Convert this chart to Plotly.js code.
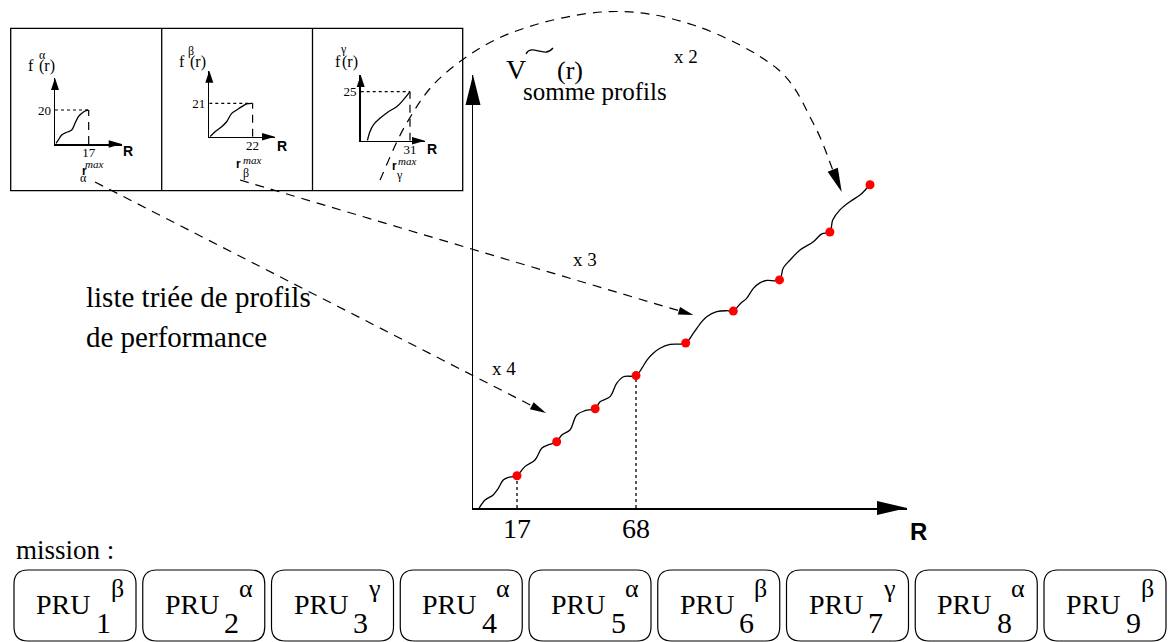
<!DOCTYPE html>
<html>
<head>
<meta charset="utf-8">
<script src="https://cdn.plot.ly/plotly-3.0.1.min.js"></script>
<style>html,body{margin:0;padding:0;background:#fff;}#chart{width:1168px;height:642px;}</style>
</head>
<body>
<div id="chart"></div>
<script>
// ================= DATA =================
// summed performance profile V~(r)
const sumR = [0.8, 3.3, 6.8, 9.0, 11.1, 13.3, 15.4, 17,
              20.4, 24.7, 27.6, 30.4, 34,
              36.2, 39.7, 42.6, 46.1, 50.5,
              52.6, 56.9, 59.7, 62.6, 68,
              70.6, 72.7, 75.4, 78.3, 82.6, 89.3,
              92.6, 96.2, 98.3, 102.6, 106.9, 109.7,
              112.6, 115.4, 118.3, 121.1, 124.0, 129.5,
              131.1, 134.0, 138.3, 144.0, 147.6, 151.1,
              152.3, 155.4, 159.7, 164.0, 166.9, 168.3];
const sumV = [0, 4.8, 7.9, 11.9, 16.9, 18.5, 18.9, 19.5,
              25.0, 29.0, 36.1, 38.1, 40,
              44.1, 47.1, 56.2, 58.8, 60,
              64.2, 67.3, 75.3, 79.3, 80,
              84.6, 89.4, 93.5, 96.5, 98.8, 99.7,
              105.6, 112.6, 115.6, 118.6, 119.2, 119,
              123.3, 126.7, 132.7, 136.0, 137.5, 137.8,
              145.0, 149.8, 155.9, 160.9, 165.6, 166.8,
              174.0, 180.1, 185.1, 189.1, 193.2, 195.3];
// cumulative points (one per PRU)
const pruR = [17, 34, 50.5, 68, 89.3, 109.7, 129.5, 151.1, 168.3];
const pruV = [19.5, 40, 60, 80, 99.7, 119, 137.8, 166.8, 195.3];
const mainTicks = [17, 68];
const mainTickText = ['17', '68'];

// individual profiles
const profileGreek = ['α', 'β', 'γ'];
const alphaR = [0.5, 1.7, 3.4, 5.9, 8.4, 10.1, 11.8, 13.5, 15.1, 16.8];
const alphaF = [0.4, 2.4, 5.3, 6.9, 8.2, 12.2, 16.1, 18.0, 19.4, 20];
const betaR  = [0.4, 2.9, 6.3, 8.8, 11.4, 13.9, 16.5, 19.0, 21.6];
const betaF  = [0, 3.1, 6.3, 9.4, 14.7, 16.8, 18.9, 20.6, 21];
const gammaR = [4.2, 5.8, 7.9, 12.1, 17.4, 22.6, 26.8, 31];
const gammaF = [0, 4.6, 8.0, 11.4, 14.8, 17.3, 20.8, 25];
const profileMaxR = [17, 22, 31];
const profileMaxF = [20, 21, 25];
const multiplicity = ['x 4', 'x 3', 'x 2'];

// mission sequence
const missionIdx  = ['1', '2', '3', '4', '5', '6', '7', '8', '9'];
const missionType = ['β', 'α', 'γ', 'α', 'α', 'β', 'γ', 'α', 'β'];

// ================= GEOMETRY / STYLE =================
const W = 1168, H = 642;
const fx = p => p / W, fy = p => 1 - p / H;
const SERIF = 'Liberation Serif';
const SANS = 'Liberation Sans';
const BLACK = '#000';

// main chart frame (px)
const M = {left: 473, right: 907, bottom: 508, top: 75, refPx: 517, kR: 2.3333, kV: 1.655};
const Rof = px => mainTicks[0] + (px - M.refPx) / M.kR;

// small charts frames (px): origin, arrow tips, px per unit
const S = [
  {x0: 55, y0: 144, xt: 121.7, yt: 78, kR: 1.982, kF: 1.7},
  {x0: 209.3, y0: 136.7, xt: 275, yt: 70.7, kR: 1.968, kF: 1.59},
  {x0: 360.7, y0: 140.7, xt: 425, yt: 75, kR: 1.59, kF: 1.96}
];
const profR = [alphaR, betaR, gammaR];
const profF = [alphaF, betaF, gammaF];

const traces = [];
traces.push({x: [0], y: [0], xaxis: 'x5', yaxis: 'y5', mode: 'markers', marker: {size: 0.1, color: 'rgba(0,0,0,0)'}, hoverinfo: 'skip'});

traces.push({x: sumR, y: sumV, xaxis: 'x', yaxis: 'y', mode: 'lines',
  line: {color: BLACK, width: 1.3, shape: 'spline', smoothing: 1}, hoverinfo: 'skip'});
const gx = [], gy = [];
mainTicks.forEach(t => {
  const i = pruR.indexOf(t);
  gx.push(t, t, null); gy.push(0, pruV[i], null);
});
traces.push({x: gx, y: gy, xaxis: 'x', yaxis: 'y', mode: 'lines',
  line: {color: BLACK, width: 1.3, dash: 'dot'}, hoverinfo: 'skip'});
traces.push({x: pruR, y: pruV, xaxis: 'x', yaxis: 'y', mode: 'markers',
  marker: {color: '#ff0000', size: 9}, hoverinfo: 'skip'});

const layout = {
  width: W, height: H, margin: {l: 0, r: 0, t: 0, b: 0},
  font: {family: SERIF, color: BLACK},
  paper_bgcolor: '#fff', plot_bgcolor: 'rgba(0,0,0,0)', showlegend: false,
  xaxis: {domain: [fx(M.left), fx(M.right)], range: [Rof(M.left), Rof(M.right)], anchor: 'y',
    showline: true, linecolor: BLACK, linewidth: 1.5, showgrid: false, zeroline: false, ticks: '',
    ticklabelstandoff: -5,
    tickvals: mainTicks, ticktext: mainTickText, tickfont: {family: SERIF, size: 28, color: BLACK}, fixedrange: true},
  yaxis: {domain: [fy(M.bottom), fy(M.top)], range: [0, (M.bottom - M.top) / M.kV], anchor: 'x',
    showline: true, linecolor: BLACK, linewidth: 1.5, showgrid: false, zeroline: false, ticks: '',
    showticklabels: false, fixedrange: true},
  xaxis5: {domain: [0, 1], range: [0, W], anchor: 'y5', visible: false, fixedrange: true},
  yaxis5: {domain: [0, 1], range: [H, 0], anchor: 'x5', visible: false, fixedrange: true},
  shapes: [], annotations: []
};

S.forEach((g, k) => {
  const xa = 'x' + (k + 2), ya = 'y' + (k + 2);
  layout['xaxis' + (k + 2)] = {domain: [fx(g.x0), fx(g.xt)], range: [0, (g.xt - g.x0) / g.kR], anchor: ya,
    showline: true, linecolor: BLACK, linewidth: 1.5, showgrid: false, zeroline: false, ticks: '',
    ticklabelstandoff: -4,
    tickvals: [profileMaxR[k]], ticktext: [String(profileMaxR[k])], tickfont: {family: SERIF, size: 13, color: BLACK}, fixedrange: true};
  layout['yaxis' + (k + 2)] = {domain: [fy(g.y0), fy(g.yt)], range: [0, (g.y0 - g.yt) / g.kF], anchor: xa,
    showline: true, linecolor: BLACK, linewidth: 1.5, showgrid: false, zeroline: false, ticks: '',
    tickvals: [profileMaxF[k]], ticktext: [String(profileMaxF[k])], tickfont: {family: SERIF, size: 13, color: BLACK}, fixedrange: true};
  traces.push({x: profR[k], y: profF[k], xaxis: xa, yaxis: ya, mode: 'lines',
    line: {color: BLACK, width: 1.3, shape: 'spline', smoothing: 1}, hoverinfo: 'skip'});
  traces.push({x: [0, profileMaxR[k]], y: [profileMaxF[k], profileMaxF[k]], xaxis: xa, yaxis: ya, mode: 'lines',
    line: {color: BLACK, width: 1.2, dash: 'dot'}, hoverinfo: 'skip'});
  traces.push({x: [profileMaxR[k], profileMaxR[k]], y: [0, profileMaxF[k]], xaxis: xa, yaxis: ya, mode: 'lines',
    line: {color: BLACK, width: 1.2, dash: '8px,6px'}, hoverinfo: 'skip'});
});

// ---------- helpers ----------
const shp = (path, o = {}) => layout.shapes.push(Object.assign({type: 'path', xref: 'x5', yref: 'y5', path: path,
  line: {color: BLACK, width: 1.3}}, o));
function head(tip, from, L, hw) {
  const dx = tip[0] - from[0], dy = tip[1] - from[1], n = Math.hypot(dx, dy);
  const ux = dx / n, uy = dy / n, bx = tip[0] - ux * L, by = tip[1] - uy * L;
  const p1 = [bx - uy * hw, by + ux * hw], p2 = [bx + uy * hw, by - ux * hw];
  shp(`M${tip[0]},${tip[1]} L${p1[0]},${p1[1]} L${p2[0]},${p2[1]} Z`, {fillcolor: BLACK, line: {width: 0, color: BLACK}});
  return [bx, by];
}
function dashedArrow(from, tip, L, hw) {
  const b = head(tip, from, L, hw);
  shp(`M${from[0]},${from[1]} L${b[0]},${b[1]}`, {line: {color: BLACK, width: 1.2, dash: '9px,7px'}});
}
function crPath(pts) {
  let d = `M${pts[0][0]},${pts[0][1]}`;
  for (let i = 0; i < pts.length - 1; i++) {
    const p0 = pts[Math.max(i - 1, 0)], p1 = pts[i], p2 = pts[i + 1], p3 = pts[Math.min(i + 2, pts.length - 1)];
    const c1 = [p1[0] + (p2[0] - p0[0]) / 6, p1[1] + (p2[1] - p0[1]) / 6];
    const c2 = [p2[0] - (p3[0] - p1[0]) / 6, p2[1] - (p3[1] - p1[1]) / 6];
    d += ` C${c1[0]},${c1[1]} ${c2[0]},${c2[1]} ${p2[0]},${p2[1]}`;
  }
  return d;
}
function roundRect(x0, y0, x1, y1, r) {
  return `M${x0 + r},${y0} H${x1 - r} Q${x1},${y0} ${x1},${y0 + r} V${y1 - r} Q${x1},${y1} ${x1 - r},${y1} ` +
         `H${x0 + r} Q${x0},${y1} ${x0},${y1 - r} V${y0 + r} Q${x0},${y0} ${x0 + r},${y0} Z`;
}
const ann = (text, x, y, size, fam, o = {}) => layout.annotations.push(Object.assign({text: text, x: x, y: y,
  xref: 'x5', yref: 'y5', showarrow: false, borderpad: 0, font: {family: fam || SERIF, size: size, color: BLACK}}, o));

// ---------- top-left panel ----------
shp(`M10.7,28.3 H462.7 V190.7 H10.7 Z`, {line: {color: BLACK, width: 1.3}});
shp(`M161.7,28.3 V190.7`, {line: {color: BLACK, width: 1.3}});
shp(`M312.5,28.3 V190.7`, {line: {color: BLACK, width: 1.3}});

S.forEach(g => {
  head([g.x0, g.yt], [g.x0, g.yt + 20], 12, 4);
  head([g.xt, g.y0], [g.xt - 20, g.y0], 13, 3.8);
});

const fPos = [[31, 65, 46.5, 66, 42, 55], [181.7, 61, 197.5, 62, 190.7, 51], [337.5, 61, 350, 62, 343.5, 49]];
const rPos = [[84, 171, 94, 164, 83, 178], [238, 164, 252, 160, 246, 173], [394, 166, 407, 161, 399.7, 175]];
const Rpos = [[127.5, 151], [281.5, 146], [431.7, 149]];
profileGreek.forEach((gk, k) => {
  const p = fPos[k], q = rPos[k];
  ann('f', p[0], p[1], 16);
  ann('(r)', p[2], p[3], 16);
  ann(gk, p[4], p[5], 12);
  ann('<b>r</b>', q[0], q[1], 12, SANS);
  ann('<i>max</i>', q[2], q[3], 11);
  ann(gk, q[4], q[5], 12);
  ann('<b>R</b>', Rpos[k][0], Rpos[k][1], 14, SANS);
});

// ---------- main chart decorations ----------
head([M.right, M.bottom], [M.right - 40, M.bottom], 30, 7);
head([M.left, M.top], [M.left, M.top + 40], 30, 7.5);
ann('<b>R</b>', 918, 531, 24, SANS);
ann('V', 516.3, 69, 28);
shp('M526,54 C532,43 544,59 553,48', {line: {color: BLACK, width: 1.3}});
ann('(r)', 570, 70, 26);
ann('somme profils', 595, 91, 25);

dashedArrow([95, 182], [546, 413], 16, 4);
dashedArrow([240, 180], [693.3, 315], 15, 4);
const arc = [[380, 180], [406.7, 123], [443.3, 75], [510, 33.3], [606.7, 11.7], [693.3, 25], [776.7, 68.3], [813.3, 123.3], [832, 168]];
const arcTip = [841.7, 192];
const ab = head(arcTip, arc[arc.length - 1], 24, 5.5);
arc[arc.length - 1] = ab;
shp(crPath(arc), {line: {color: BLACK, width: 1.2, dash: '9px,7px'}});
ann(multiplicity[0], 503.5, 368, 19);
ann(multiplicity[1], 585, 259, 19);
ann(multiplicity[2], 686, 56, 19);

ann('liste triée de profils', 85, 297, 29, SERIF, {xanchor: 'left'});
ann('de performance', 85, 337, 29, SERIF, {xanchor: 'left'});
ann('mission :', 15, 550, 27, SERIF, {xanchor: 'left'});

// ---------- mission boxes ----------
missionIdx.forEach((d, i) => {
  const x0 = 14 + i * 128.75, x1 = x0 + 122;
  shp(roundRect(x0, 570, x1, 641, 14), {line: {color: BLACK, width: 1.2}});
  ann('PRU', x0 + 49, 604, 28);
  ann(d, x0 + 89, 622, 30);
  ann(missionType[i], x0 + 103, 588, 26);
});

Plotly.newPlot('chart', traces, layout, {staticPlot: true, displayModeBar: false});
</script>
</body>
</html>
